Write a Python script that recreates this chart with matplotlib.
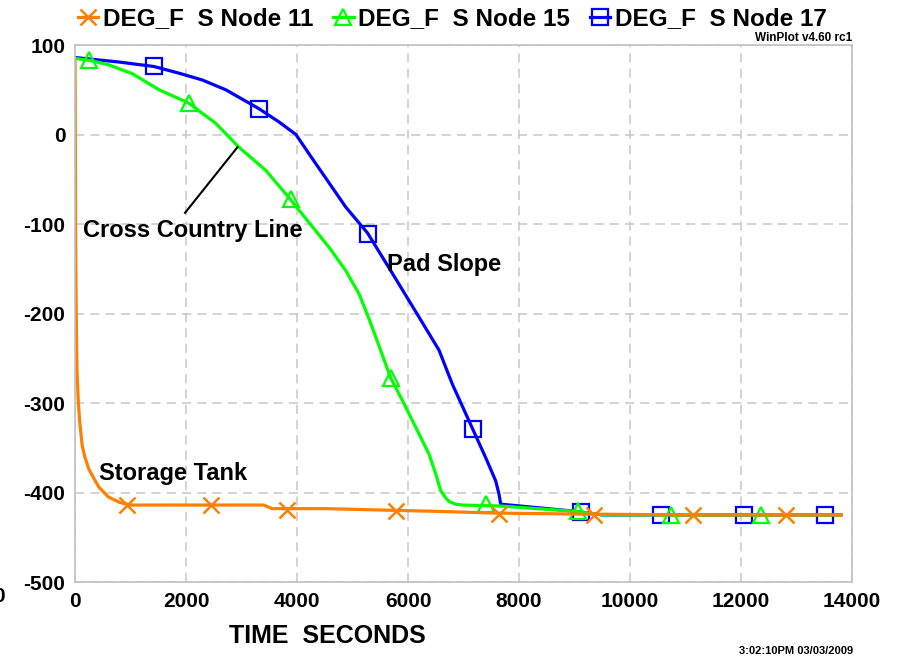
import matplotlib
matplotlib.use("Agg")
import matplotlib.pyplot as plt
from matplotlib.ticker import FuncFormatter

plt.rcParams['font.family'] = ['Liberation Sans', 'DejaVu Sans']
plt.rcParams['font.weight'] = 'bold'

# node 11 - storage tank
t11 = [0, 5, 12, 25, 36, 60, 85, 130, 175, 250, 355, 430, 600, 800, 1000,
       2000, 3400, 3550, 4500, 5800, 6500, 7600, 9000, 11000, 13800]
v11 = [84, 0, -137, -220, -266, -300, -322, -348, -360, -374, -386, -394, -405, -411, -414,
       -414, -414, -418, -418, -420, -421, -423, -424, -425, -425]
m11_t = [945, 2455, 3815, 5790, 7640, 9360, 11135, 12805]
m11_v = [-414, -414, -419, -421, -424, -425, -425, -425]

# node 15 - cross country line
t15 = [0, 250, 600, 1030, 1514, 2050, 2535, 2950, 3436, 3860, 4276, 4577, 4877, 5117,
       5297, 5500, 5688, 5898, 6138, 6378, 6498, 6589, 6680, 6739, 6850, 6979, 7640,
       9020, 9500, 13800]
v15 = [85, 83, 78, 68, 50, 35, 12.5, -14, -40, -71, -103, -126, -152, -178,
       -206, -240, -272, -297, -327, -357, -379, -398, -406, -410, -413, -414, -415,
       -421, -425, -425]
m15_t = [250, 2055, 3885, 5690, 7410, 9070, 10735, 12355]
m15_v = [83, 35, -72, -272, -413, -421, -425, -425]

# node 17 - pad slope
t17 = [0, 790, 1420, 1874, 2290, 2715, 3310, 3676, 3980, 4276, 4877, 5270, 5717, 6198,
       6559, 6799, 7099, 7399, 7580, 7640, 7670, 9020, 9500, 13800]
v17 = [86, 81, 76, 68.5, 61, 50, 29, 14, 0, -27, -81, -110, -155, -204,
       -241, -279, -320, -361, -387, -402, -413, -421, -425, -425]
m17_t = [1420, 3310, 5270, 7175, 9110, 10555, 12055, 13510]
m17_v = [77, 29, -111, -329, -422, -425, -425, -425]

names = ["DEG_F  S Node 11", "DEG_F  S Node 15", "DEG_F  S Node 17"]
x_ticks = [0, 2000, 4000, 6000, 8000, 10000, 12000, 14000]
y_ticks = [100, 0, -100, -200, -300, -400, -500]

orange = "#ff8000"
green = "#00ff00"
blue = "#0000ff"

fig = plt.figure(figsize=(9.01, 6.59), dpi=100)
ax = fig.add_axes([0.0833, 0.1168, 0.8623, 0.8149])

l17, = ax.plot(t17, v17, color=blue, lw=2.3)
p17, = ax.plot(m17_t, m17_v, ls="none", marker="s", ms=11, mfc="none", mec=blue, mew=1.6)
l15, = ax.plot(t15, v15, color=green, lw=2.3)
p15, = ax.plot(m15_t, m15_v, ls="none", marker="^", ms=11, mfc="none", mec=green, mew=1.6)
l11, = ax.plot(t11, v11, color=orange, lw=2.3)
p11, = ax.plot(m11_t, m11_v, ls="none", marker="x", ms=12, mec=orange, mew=1.8)

ax.set_xlim(0, 14000)
ax.set_ylim(-500, 100)
ax.set_xticks(x_ticks)
ax.set_yticks(y_ticks)
ax.yaxis.set_major_formatter(FuncFormatter(lambda v, p: "%d" % v))
ax.tick_params(length=0, labelsize=15, pad=7)
for lab in ax.get_xticklabels() + ax.get_yticklabels():
    lab.set_fontweight("bold")
ax.grid(True, color="#c8c8c8", ls=(0, (6, 4)), lw=1.1)
for s in ax.spines.values():
    s.set_color("#c0c0c0")
    s.set_linewidth(1.2)

# annotations
ax.text(144, -107, "Cross Country Line", fontsize=17, fontweight="bold", va="center")
ax.plot([1982, 2925], [-87.5, -14.3], color="black", lw=1.5)
ax.text(5622, -145, "Pad Slope", fontsize=17, fontweight="bold", va="center")
ax.text(432, -379, "Storage Tank", fontsize=17, fontweight="bold", va="center")

fig.legend([(l11, p11), (l15, p15), (l17, p17)], names, loc="center",
           bbox_to_anchor=(0.502, 1 - 19 / 659), ncol=3, frameon=False,
           prop={"size": 17.5, "weight": "bold"}, handlelength=0.85,
           handletextpad=0.2, columnspacing=0.8, borderaxespad=0, borderpad=0)

fig.text(0.363, 1 - 636 / 659, "TIME  SECONDS", fontsize=18, fontweight="bold",
         ha="center", va="center")
fig.text(852 / 901, 1 - 38 / 659, "WinPlot v4.60 rc1", fontsize=8.5, fontweight="bold",
         ha="right", va="center")
fig.text(853 / 901, 1 - 651 / 659, "3:02:10PM 03/03/2009", fontsize=8, fontweight="bold",
         ha="right", va="center")
fig.text(5 / 901, 1 - 597 / 659, "0", fontsize=15, fontweight="bold",
         ha="right", va="center")

fig.savefig("out.png", dpi=100)
